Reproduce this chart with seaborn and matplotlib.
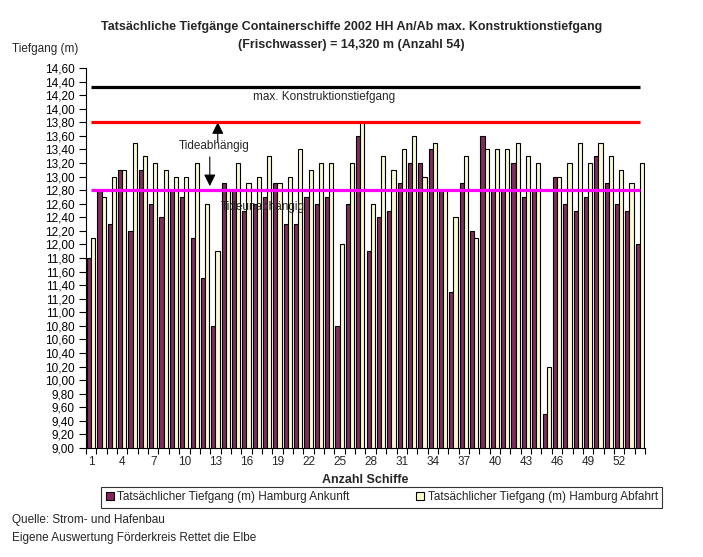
import numpy as np
import pandas as pd
import seaborn as sns
from matplotlib import pyplot as plt
from matplotlib.patches import Patch
from matplotlib.ticker import FixedLocator, FuncFormatter

# Tiefgang je Schiff (m)
schiffe = list(range(1, 55))
ankunft = [11.8, 12.8, 12.3, 13.1, 12.2, 13.1, 12.6, 12.4, 12.8, 12.7,
           12.1, 11.5, 10.8, 12.9, 12.8, 12.5, 12.6, 12.7, 12.9, 12.3,
           12.3, 12.7, 12.6, 12.7, 10.8, 12.6, 13.6, 11.9, 12.4, 12.5,
           12.9, 13.2, 13.2, 13.4, 12.8, 11.3, 12.9, 12.2, 13.6, 12.8,
           12.8, 13.2, 12.7, 12.8, 9.5, 13.0, 12.6, 12.5, 12.7, 13.3,
           12.9, 12.6, 12.5, 12.0]
abfahrt = [12.1, 12.7, 13.0, 13.1, 13.5, 13.3, 13.2, 13.1, 13.0, 13.0,
           13.2, 12.6, 11.9, 12.8, 13.2, 12.9, 13.0, 13.3, 12.9, 13.0,
           13.4, 13.1, 13.2, 13.2, 12.0, 13.2, 13.8, 12.6, 13.3, 13.1,
           13.4, 13.6, 13.0, 13.5, 12.8, 12.4, 13.3, 12.1, 13.4, 13.4,
           13.4, 13.5, 13.3, 13.2, 10.2, 13.0, 13.2, 13.5, 13.2, 13.5,
           13.3, 13.1, 12.9, 13.2]
serien = ["Tatsächlicher Tiefgang (m) Hamburg Ankunft",
          "Tatsächlicher Tiefgang (m) Hamburg Abfahrt"]
farben = ["#8B2160", "#FFFFCC"]

konstruktion = 14.32
tide_grenze = 13.80
tideunabh = 12.80

df = pd.DataFrame({
    "Schiff": schiffe * 2,
    "Tiefgang": ankunft + abfahrt,
    "Serie": [serien[0]] * len(ankunft) + [serien[1]] * len(abfahrt),
})

sns.set_style("white")
plt.rcParams['font.family'] = ['Liberation Sans', 'DejaVu Sans']

fig = plt.figure(figsize=(7.03, 5.57), dpi=100)
ax = fig.add_axes([0.1223, 0.1957, 0.7952, 0.6822])

sns.barplot(data=df, x="Schiff", y="Tiefgang", hue="Serie", hue_order=serien,
            palette=farben, edgecolor="black", linewidth=0.8, width=0.8,
            legend=False, ax=ax)

n = len(schiffe)
ax.set_xlim(-0.5, n - 0.5)
ax.set_ylim(9.0, 14.6)

# Referenzlinien
ax.hlines(konstruktion, 0, n - 1, color="black", lw=2.3, zorder=5)
ax.hlines(tide_grenze, 0, n - 1, color="red", lw=2.3, zorder=5)
ax.hlines(tideunabh, 0, n - 1, color="#FF00FF", lw=2.3, zorder=5)

ax.text(15.6, 14.17, "max. Konstruktionstiefgang", fontsize=8.5, va="center")
ax.text(8.5, 13.45, "Tideabhängig", fontsize=8.5, va="center")
ax.text(12.5, 12.55, "Tideunabhängig", fontsize=8.5, va="center", zorder=3)
ax.annotate("", xy=(12.23, 13.80), xytext=(12.23, 13.51),
            arrowprops=dict(arrowstyle="-|>,head_width=0.35,head_length=0.7",
                            color="black", lw=0.8, shrinkA=0, shrinkB=0))
ax.annotate("", xy=(11.46, 12.86), xytext=(11.46, 13.29),
            arrowprops=dict(arrowstyle="-|>,head_width=0.35,head_length=0.7",
                            color="black", lw=0.8, shrinkA=0, shrinkB=0))

# Achsen
ax.yaxis.set_major_locator(FixedLocator(np.round(np.arange(9.0, 14.61, 0.2), 2)))
ax.yaxis.set_major_formatter(FuncFormatter(lambda v, p: f"{v:.2f}".replace(".", ",")))
ax.tick_params(axis="y", left=True, length=5, width=0.8, labelsize=8.5, pad=3,
               colors="black")

ax.set_xticks(range(0, n, 3))
ax.set_xticklabels([str(s) for s in schiffe[::3]])
ax.set_xticks(np.arange(-0.5, n, 1), minor=True)
ax.tick_params(axis="x", which="major", bottom=False, labelsize=8.5, pad=2)
ax.tick_params(axis="x", which="minor", bottom=True, length=4, width=0.8,
               colors="black")

ax.set_xlabel("")
ax.set_ylabel("")
for s in ["top", "right"]:
    ax.spines[s].set_visible(False)
for s in ["left", "bottom"]:
    ax.spines[s].set_color("black")
    ax.spines[s].set_linewidth(0.8)

fig.text(0.5, 0.951, "Tatsächliche Tiefgänge Containerschiffe 2002 HH An/Ab max. Konstruktionstiefgang",
         ha="center", va="center", fontsize=9, fontweight="bold")
fig.text(0.5, 0.919, "(Frischwasser) = 14,320 m (Anzahl 54)",
         ha="center", va="center", fontsize=9, fontweight="bold")
fig.text(0.017, 0.912, "Tiefgang (m)", fontsize=8.5, va="center")
fig.text(0.52, 0.138, "Anzahl Schiffe", ha="center", va="center",
         fontsize=9, fontweight="bold")
fig.text(0.017, 0.066, "Quelle: Strom- und Hafenbau", fontsize=8.5, va="center")
fig.text(0.017, 0.034, "Eigene Auswertung Förderkreis Rettet die Elbe",
         fontsize=8.5, va="center")

handles = [Patch(facecolor=c, edgecolor="black", linewidth=0.8) for c in farben]
leg = fig.legend(handles, serien, loc="center", bbox_to_anchor=(0.543, 0.107),
                 ncol=2, fontsize=8.5, frameon=True, fancybox=False,
                 edgecolor="black", handlelength=0.7, handleheight=0.7,
                 handletextpad=0.3, columnspacing=5.6, borderpad=0.35,
                 borderaxespad=0)
leg.get_frame().set_linewidth(0.8)

fig.savefig("out.png", dpi=100)
